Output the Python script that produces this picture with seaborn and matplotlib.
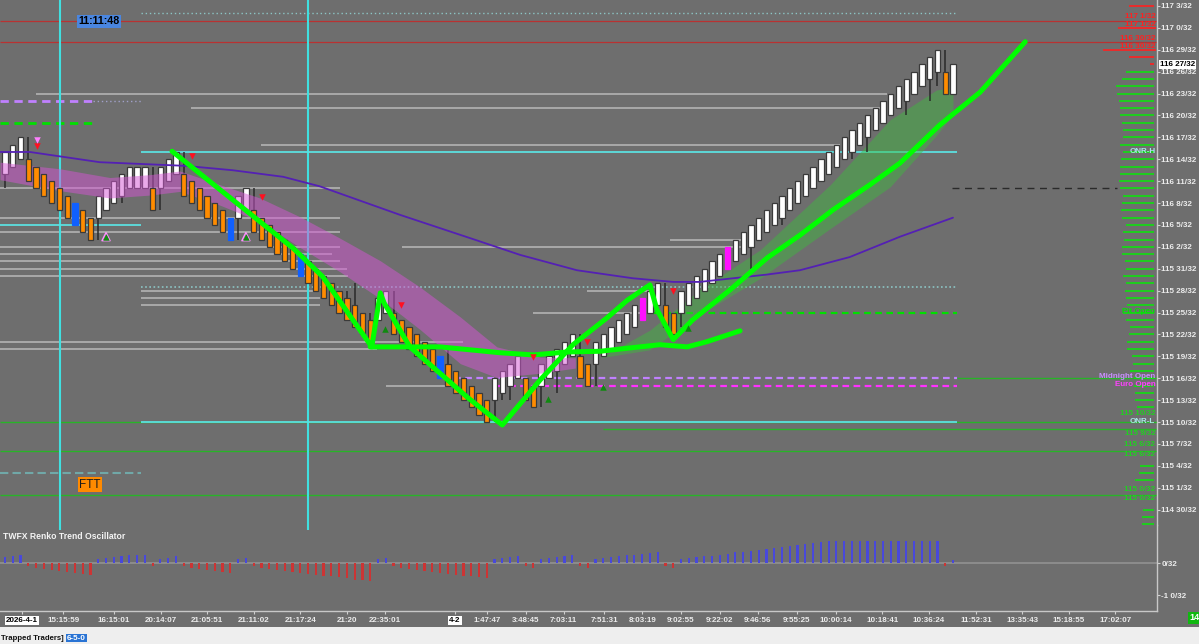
import numpy as np
import pandas as pd
import matplotlib
matplotlib.use("Agg")
import matplotlib.pyplot as plt
import matplotlib.transforms as mtransforms
from matplotlib.patches import Rectangle
import seaborn as sns

# ---------------- data (prices in 32nds of a point) ----------------
brick_close = [3727, 3728, 3729,
               3723, 3722, 3721, 3720, 3719, 3718, 3717, 3716, 3715,
               3721, 3722, 3723, 3724, 3725, 3725, 3725,
               3719,
               3725, 3726, 3727,
               3721, 3720, 3719, 3718, 3717, 3716, 3715,
               3721, 3722,
               3716, 3715, 3714, 3713, 3712, 3711, 3710, 3709, 3708, 3707, 3706, 3705, 3704, 3703, 3702, 3701,
               3707, 3708,
               3702, 3701, 3700, 3699, 3698, 3697, 3696, 3695, 3694, 3693, 3692, 3691, 3690,
               3696, 3697, 3698, 3699,
               3693, 3692,
               3698, 3699, 3700, 3701, 3702,
               3696, 3695,
               3701, 3702, 3703, 3704, 3705, 3706, 3707, 3708, 3709,
               3703, 3702,
               3708, 3709, 3710, 3711, 3712, 3713, 3714, 3715, 3716, 3717, 3718, 3719, 3720, 3721,
               3722, 3723, 3724, 3725, 3726, 3727, 3728, 3729, 3730, 3731, 3732, 3733, 3734, 3735,
               3736, 3737, 3738, 3739, 3740, 3741,
               3735, 3739]
brick_kind = ("uuu" "ddddddbdd" "uuuuuuu" "d" "uuu" "ddddddb" "uu"
              "ddddddbddddddddd" "uu" "ddddddbdddddd" "uuuu" "dd" "uuuuu" "dd"
              "uuuuuumuu" "dd" "uuuuuum" "uuuuuuuuu" "uuuuuuuuu" "uuuuuuuuu" "du")
forming_brick_open = 3735

wick_idx = [0, 3, 12, 15, 19, 20, 23, 30, 32, 44, 45, 47, 50, 57, 63, 64, 65, 69, 71, 74,
            76, 85, 87, 96, 100, 109, 111, 116, 119, 120, 121]
wick_end = [3722, 3729, 3715, 3720, 3725, 3719, 3727, 3715, 3722, 3708, 3709, 3705, 3708, 3700,
            3690, 3693, 3693, 3692, 3694, 3702, 3695, 3709, 3703, 3711, 3717, 3726, 3727, 3732,
            3734, 3736, 3741]

osc_values = [0.19, 0.21, 0.24,
              -0.10, -0.16, -0.19, -0.23, -0.24, -0.28, -0.31, -0.33, -0.36,
              0.125, 0.16, 0.19, 0.21, 0.24, 0.24, 0.24,
              -0.10,
              0.125, 0.16, 0.21,
              -0.10, -0.16, -0.19, -0.23, -0.26, -0.28, -0.31,
              0.125, 0.16,
              -0.10, -0.16, -0.19, -0.23, -0.26, -0.28, -0.31, -0.33, -0.36, -0.40, -0.42, -0.45,
              -0.48, -0.52, -0.54, -0.57,
              0.125, 0.16,
              -0.10, -0.16, -0.19, -0.23, -0.26, -0.28, -0.31, -0.33, -0.36, -0.40, -0.42, -0.45, -0.48,
              0.125, 0.16, 0.19, 0.21,
              -0.10, -0.16,
              0.125, 0.16, 0.19, 0.21, 0.24,
              -0.10, -0.16,
              0.125, 0.16, 0.19, 0.21, 0.24, 0.26, 0.29, 0.31, 0.33,
              -0.10, -0.16,
              0.125, 0.16, 0.19,
              0.21, 0.23, 0.26, 0.29, 0.33, 0.35, 0.39, 0.42, 0.45, 0.48, 0.51, 0.54, 0.57, 0.60,
              0.625, 0.66, 0.69, 0.70,
              0.70, 0.70, 0.70, 0.70, 0.70, 0.70, 0.70, 0.70, 0.70, 0.70, 0.70, 0.70, 0.70,
              -0.10, 0.08]

# moving average (sampled knots)
ma_idx = [-0.6, 3.2, 12.2, 23.2, 29.3, 35.8, 40.5, 50.8, 60.7, 66.3, 73.6, 80.8, 86.0, 89.4,
          98.0, 102.3, 108.7, 115.2, 122.0]
ma_val = [3727.0, 3727.0, 3725.6, 3725.1, 3724.5, 3723.6, 3722.3, 3718.4, 3714.9, 3712.9,
          3710.8, 3709.7, 3709.2, 3709.2, 3710.2, 3710.8, 3712.6, 3715.4, 3718.0]

# down-trend ribbon (centre, half width)
band_idx = [-0.64, 7.08, 13.5, 18.7, 22.5, 27.7, 32.8, 38.0, 43.1, 48.3, 53.4, 58.6, 63.3, 68.9, 73.4]
band_mid = [3724.4, 3723.2, 3722.1, 3722.5, 3723.0, 3721.1, 3719.1, 3716.0, 3712.9, 3709.5,
            3705.6, 3701.2, 3698.2, 3697.8, 3698.1]
band_half = [1.2, 1.5, 1.4, 1.4, 1.4, 1.4, 1.6, 2.1, 2.3, 2.6, 2.9, 3.2, 2.1, 1.1, 0.7]

# up-trend fan
fan_idx = [76.6, 83.0, 89.4, 97.2, 106.2, 113.9, 119.9, 122.0]
fan_hi = [3698.8, 3702.6, 3708.1, 3713.6, 3722.5, 3731.4, 3735.5, 3735.8]
fan_lo = [3698.8, 3699.9, 3704.7, 3709.7, 3716.5, 3722.2, 3729.3, 3732.1]

# hand drawn green lines
draw1_idx = [21.5, 37.1, 40.9, 47.2, 48.3, 48.8, 52.1, 59.5, 64.0, 68.9, 73.1, 77.5, 80.1, 83.0,
             83.9, 86.0, 88.5, 93.3, 98.1, 102.3, 106.6, 111.3, 115.2, 120.3, 125.5, 131.3]
draw1_val = [3727.1, 3713.8, 3709.9, 3700.3, 3707.7, 3706.3, 3700.3, 3693.4, 3689.6, 3695.8,
             3700.6, 3704.3, 3706.7, 3708.8, 3705.4, 3701.3, 3704.0, 3708.1, 3712.5, 3715.6,
             3719.1, 3722.5, 3725.5, 3730.7, 3735.2, 3742.1]
draw2_idx = [47.0, 56.0, 63.7, 68.0, 72.3, 76.6, 80.8, 84.3, 87.8, 90.3, 94.6]
draw2_val = [3700.3, 3700.3, 3699.5, 3699.2, 3699.6, 3699.7, 3700.2, 3700.6, 3700.3, 3701.0, 3702.5]

# signal markers
sell_idx = [4.1, 24.1, 33.1, 51.0, 68.0, 74.9, 86.0]
sell_val = [3727.8, 3726.5, 3720.8, 3706.0, 3698.9, 3701.0, 3708.0]
buy_idx = [13.0, 31.0, 48.9, 69.9, 77.0, 87.9]
buy_val = [3715.4, 3715.4, 3702.8, 3693.2, 3694.8, 3702.9]

# price levels
gray_level = [3735, 3733, 3728, 3722, 3718, 3716, 3714, 3714, 3713, 3712, 3711, 3710, 3715,
              3708, 3707, 3706, 3708, 3705, 3701, 3700, 3695]
gray_from = [4.0, 23.9, 32.9, -0.6, -0.6, -0.6, -0.6, 51.1, -0.6, -0.6, -0.6, -0.6, 85.6,
             17.5, 17.5, 17.5, 74.9, 68.0, -0.6, -0.6, 49.0]
gray_to = [113.5, 112.6, 107.5, 43.1, 43.1, 43.1, 43.1, 95.5, 42.1, 43.1, 44.0, 44.1, 95.5,
           39.6, 40.5, 40.5, 83.0, 82.1, 58.9, 47.9, 57.3]

profile_level = [3738, 3737, 3736, 3735, 3734, 3733, 3732, 3731, 3730, 3729, 3728, 3727, 3726,
                 3725, 3724, 3723, 3722, 3721, 3720, 3719, 3718, 3717, 3716, 3715, 3714, 3713,
                 3712, 3711, 3710, 3709, 3708, 3707, 3706, 3705, 3704, 3703, 3702, 3701, 3700,
                 3699, 3698, 3697, 3696, 3695, 3694, 3693, 3692, 3684, 3683, 3682, 3678, 3677, 3676]
profile_len = [28, 32, 38, 37, 35, 34, 34, 32, 31, 31, 34, 31, 33, 34, 34, 35, 34, 31, 32, 33,
               32, 28, 31, 30, 32, 32, 29, 28, 31, 28, 29, 28, 27, 31, 28, 24, 25, 27, 27, 22,
               21, 24, 20, 20, 19, 19, 17, 14, 15, 19, 11, 12, 12]

time_pos = [2.2, 7.5, 14.0, 20.1, 26.0, 32.0, 38.0, 44.0, 48.9, 57.9, 62.0, 67.0, 71.9, 77.1,
            82.0, 87.0, 92.0, 96.9, 101.9, 106.9, 112.9, 118.9, 125.0, 130.9, 136.9, 142.9]
time_labels = ["2026-4-1", "15:15:59", "16:15:01", "20:14:07", "21:05:51", "21:11:02",
               "21:17:24", "21:20", "22:35:01", "4-2", "1:47:47", "3:48:45", "7:03:11",
               "7:51:31", "8:03:19", "9:02:55", "9:22:02", "9:46:56", "9:55:25", "10:00:14",
               "10:18:41", "10:36:24", "11:52:31", "13:35:43", "15:18:55", "17:02:07"]


def fmt32(p):
    p = int(round(p))
    return f"{p // 32} {p % 32}/32"


# ---------------- style ----------------
BG = "#6e6e6e"
sns.set_theme(style="dark", rc={"axes.facecolor": BG, "figure.facecolor": BG})
plt.rcParams["font.family"] = ["Liberation Sans", "DejaVu Sans"]
FS = 5.8

W, H = 1199, 644
fig = plt.figure(figsize=(W / 100, H / 100), dpi=100)
fig.patch.set_facecolor(BG)
ax = fig.add_axes([0, 1 - 525 / H, 1157 / W, 525 / H])
axo = fig.add_axes([0, 1 - 611 / H, 1157 / W, 86 / H])
XL = (-0.6435, 148.26)

for a in (ax, axo):
    a.set_facecolor(BG)
    a.grid(False)
    for s in ("top", "left"):
        a.spines[s].set_visible(False)
    a.spines["right"].set_color("#c8c8c8")
    a.spines["right"].set_linewidth(1)
ax.spines["bottom"].set_visible(False)
axo.spines["bottom"].set_color("#c8c8c8")
axo.spines["bottom"].set_linewidth(1)

# ---------------- level lines ----------------
ax.hlines(gray_level, gray_from, gray_to, colors="#a9a9a9", lw=1.4, zorder=1)
ax.hlines([3745, 3742], XL[0], XL[1], colors="#b83232", lw=0.9, zorder=1)
ax.hlines([3747, 3740, 3739, 3744.0, 3741.0], [144.7, 144.7, 147.3, 143.3, 141.3],
          [147.9, 147.9, 147.9, 148.1, 148.1], colors="#ff2020", lw=1.2, zorder=1)
ax.hlines([3746], 17.5, 122.5, colors="#8cc4c4", lw=1, linestyles=(0, (1, 2)), zorder=1)
ax.hlines([3734], -0.6, 11.3, colors="#c080ff", lw=2, linestyles=(0, (3, 2)), zorder=1)
ax.hlines([3734], 11.3, 17.5, colors="#a0a0c8", lw=1, linestyles=(0, (1, 2)), zorder=1)
ax.hlines([3731], -0.6, 11.2, colors="#00e000", lw=2, linestyles=(0, (3, 2)), zorder=1)
ax.hlines([3696, 3690, 3689, 3686, 3680], [122.5, XL[0], 77.0, XL[0], XL[0]], XL[1],
          colors="#28b428", lw=1, zorder=1)
ax.hlines([3727, 3690], 17.5, 122.5, colors="#5ce0e0", lw=1.3, zorder=1.2)
ax.hlines([3717], -0.6, 17.5, colors="#5ce0e0", lw=1.3, zorder=1.2)
ax.hlines([3708.5], 17.5, 122.5, colors="#8cc4c4", lw=1.2, linestyles=(0, (1, 1.5)), zorder=1)
ax.hlines([3683], -0.6, 17.5, colors="#70a8a8", lw=1.5, linestyles=(0, (4, 2)), zorder=1)
ax.hlines([3705], 83.4, 122.5, colors="#00e000", lw=1.6, linestyles=(0, (3, 2)), zorder=1.3)
ax.hlines([3696], 56.4, 122.5, colors="#c080ff", lw=1.6, linestyles=(0, (3, 2)), zorder=1.3)
ax.hlines([3695], 63.4, 122.5, colors="#ff30ff", lw=1.6, linestyles=(0, (3, 2)), zorder=1.3)
ax.hlines([3722], 121.9, 143.1, colors="#2a2a2a", lw=1, linestyles=(0, (5, 4)), zorder=1)
# right side profile
prof_end = 147.9
ax.hlines(profile_level, [prof_end - l / 7.77 for l in profile_len], prof_end,
          colors="#10e010", lw=1.2, zorder=1.5)

for xv in (7.08, 39.0):
    ax.axvline(xv, color="#40e0e0", lw=1.5, zorder=1.1)
    axo.vlines(xv, 1.03, 1.2, color="#40e0e0", lw=1.5, zorder=1.1)

# ---------------- bricks ----------------
idx = np.arange(len(brick_close))
body_lo, body_hi = [], []
for c, k in zip(brick_close, brick_kind):
    if k in "um":
        body_lo.append(c - 3)
        body_hi.append(c)
    else:
        body_lo.append(c)
        body_hi.append(c + 3)
body_lo[-1] = forming_brick_open
body_lo = np.array(body_lo, float)
body_hi = np.array(body_hi, float)
kinds = np.array(list(brick_kind))

mid = (body_lo + body_hi) / 2
ax.vlines(np.array(wick_idx), mid[wick_idx], wick_end, colors="#2a2a2a", lw=1.1, zorder=2.5)

fill_map = {"u": "#ffffff", "d": "#ff8c00", "b": "#1060ff", "m": "#ff10ff"}
for k, z in (("u", 3), ("d", 4), ("b", 4), ("m", 4)):
    sel = kinds == k
    ec = "#3a3a3a" if k in "ud" else fill_map[k]
    ax.bar(idx[sel], (body_hi - body_lo)[sel], bottom=body_lo[sel], width=0.68,
           color=fill_map[k], edgecolor=ec, linewidth=0.9, zorder=z)

# ribbons
bm = np.array(band_mid)
bh = np.array(band_half)
ax.fill_between(band_idx, bm - bh, bm + bh, color="#d455d4", alpha=0.5, lw=0, zorder=3.5)
ax.fill_between(fan_idx, fan_lo, fan_hi, color="#3cbc3c", alpha=0.45, lw=0, zorder=2.2)

# moving average and drawings
sns.lineplot(x=ma_idx, y=ma_val, ax=ax, color="#5420b4", lw=1.3, sort=False,
             estimator=None, zorder=5)
for xs, ys in ((draw1_idx, draw1_val), (draw2_idx, draw2_val)):
    sns.lineplot(x=xs, y=ys, ax=ax, color="#00ff00", lw=3.6, sort=False, estimator=None,
                 zorder=6, solid_capstyle="round", solid_joinstyle="round")

ax.scatter(sell_idx, sell_val, marker="v", s=22, color="#ff1020", lw=0, zorder=6.5)
ax.scatter([4.1], [3728.6], marker="v", s=22, color="#ff80ff", lw=0, zorder=6.5)
ax.scatter(buy_idx, buy_val, marker="^", s=22, color="#108a10", lw=0, zorder=6.5)
ax.scatter(buy_idx[:2], buy_val[:2], marker="^", s=34, facecolor="none",
           edgecolor="#ff90ff", lw=1, zorder=6.4)

ax.set_xlim(*XL)
ax.set_ylim(3675.9, 3747.82)
ax.set_xticks([])
ax.yaxis.tick_right()
yt = list(range(3678, 3748, 3))
ax.set_yticks(yt)
ax.set_yticklabels([fmt32(v) for v in yt])
ax.tick_params(axis="y", which="both", direction="out", length=2, width=0.8, color="#d0d0d0",
               labelcolor="#ececec", labelsize=FS, pad=1, right=True, left=False)
for t in ax.get_yticklabels():
    t.set_fontweight("bold")
ax.set_xlabel("")
ax.set_ylabel("")

# right side labels
rx = 148.05
for txt, y, col in (("117 1/32", 3745.6, "#ff2020"), ("117 1/32", 3744.4, "#ff2020"),
                    ("116 30/32", 3742.6, "#ff2020"), ("116 30/32", 3741.4, "#ff2020"),
                    ("ONR-H", 3727.0, "#a8e8e8"), ("Pit Open", 3705.1, "#00e600"),
                    ("Midnight Open", 3696.2, "#c890ff"), ("Euro Open", 3695.2, "#ff40ff"),
                    ("115 10/32", 3691.2, "#20d020"), ("ONR-L", 3690.1, "#a8e8e8"),
                    ("115 9/32", 3688.5, "#20d020"), ("115 6/32", 3686.9, "#20d020"),
                    ("115 6/32", 3685.5, "#20d020"), ("115 0/32", 3680.8, "#20d020"),
                    ("115 0/32", 3679.5, "#20d020")):
    ax.text(rx, y, txt, color=col, fontsize=FS, fontweight="bold", ha="right", va="center",
            zorder=7)

trans = mtransforms.blended_transform_factory(ax.transAxes, ax.transData)
ax.text(1.0 + 3 / 1157, 3739, "116 27/32", transform=trans, color="black", fontsize=FS,
        fontweight="bold", ha="left", va="center", clip_on=False, zorder=8,
        bbox=dict(boxstyle="square,pad=0.15", fc="white", ec="none"))

ax.text(9.45, 3744.9, "11:11:48", color="black", fontsize=7.7, fontweight="bold", ha="left",
        va="center", zorder=8, bbox=dict(boxstyle="square,pad=0.15", fc="#4a86e0", ec="none"))
ax.text(10.9, 3681.4, "FTT", color="#1a1a1a", fontsize=8.5, ha="center", va="center",
        zorder=8, bbox=dict(boxstyle="square,pad=0.12", fc="#ff8a00", ec="none"))

# ---------------- oscillator ----------------
osc_df = pd.DataFrame({"i": idx, "v": osc_values,
                       "s": ["pos" if v >= 0 else "neg" for v in osc_values]})
sns.barplot(data=osc_df, x="i", y="v", hue="s", palette={"pos": "#4848dc", "neg": "#cc3434"},
            native_scale=True, width=0.28, dodge=False, errorbar=None, legend=False,
            saturation=1, ax=axo, zorder=3, edgecolor="none", linewidth=0)
axo.axhline(0, color="#8c8c8c", lw=1.4, zorder=2)
axo.set_xlim(*XL)
axo.set_ylim(-1.5, 1.1875)
axo.set_xlabel("")
axo.set_ylabel("")
axo.yaxis.tick_right()
axo.set_yticks([0, -1])
axo.set_yticklabels(["0/32", "-1 0/32"])
axo.tick_params(axis="y", direction="out", length=2, width=0.8, color="#d0d0d0",
                labelcolor="#ececec", labelsize=FS, pad=1, right=True, left=False)
axo.set_xticks(time_pos)
axo.set_xticklabels(time_labels)
axo.tick_params(axis="x", direction="out", length=2, width=0.8, color="#d0d0d0",
                labelcolor="#ececec", labelsize=FS, pad=2, bottom=True)
for t in axo.get_yticklabels() + axo.get_xticklabels():
    t.set_fontweight("bold")
for t in axo.get_xticklabels():
    if t.get_text() in ("2026-4-1", "4-2"):
        t.set_color("black")
        t.set_bbox(dict(boxstyle="square,pad=0.12", fc="white", ec="none"))
axo.text(-0.3, 0.84, "TWFX Renko Trend Oscillator", color="#f4f4f4", fontsize=6.2,
         fontweight="bold", ha="left", va="center")

# ---------------- bottom status strip ----------------
fig.add_artist(Rectangle((0, 0), 1, 17 / H, transform=fig.transFigure, fc="#eeeeee",
                         ec="none", zorder=0))
fig.text(1 / W, 6 / H, "Trapped Traders]", color="#111111", fontsize=5.6,
         fontweight="bold", ha="left", va="center")
fig.text(67 / W, 6 / H, "6-5-0", color="white", fontsize=5.8, fontweight="bold", ha="left",
         va="center", bbox=dict(boxstyle="square,pad=0.12", fc="#2a74d4", ec="none"))
fig.text(1189 / W, 1 - 618 / H, "14", color="white", fontsize=6.5, fontweight="bold",
         ha="left", va="center", bbox=dict(boxstyle="square,pad=0.15", fc="#10b810", ec="none"))

fig.savefig("out.png", dpi=100, facecolor=fig.get_facecolor())
